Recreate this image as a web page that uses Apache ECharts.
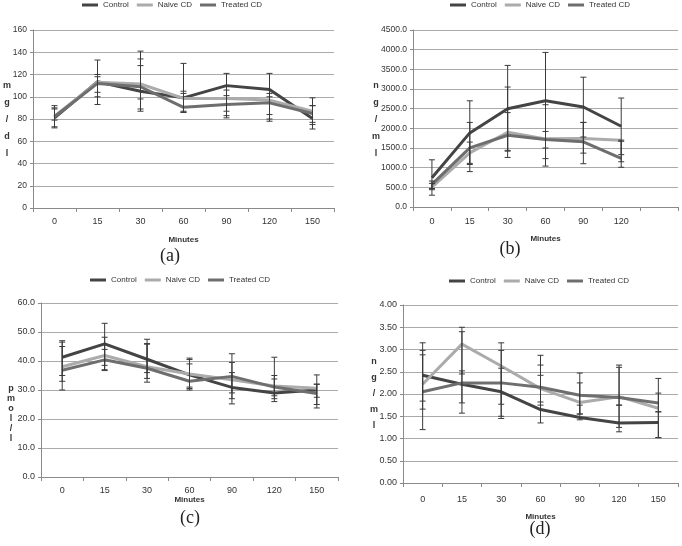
<!DOCTYPE html>
<html><head><meta charset="utf-8">
<script src="https://cdn.jsdelivr.net/npm/echarts@6/dist/echarts.min.js"></script>
<style>html,body{margin:0;padding:0;background:#fff}#c{width:682px;height:546px}</style>
</head><body><div id="c"></div>
<script>
const seriesNames = ['Control', 'Naive CD', 'Treated CD'];
const cats = ['0', '15', '30', '60', '90', '120', '150'];
const catsB = ['0', '15', '30', '60', '90', '120', ''];

// Panel (a) mg/dl
const aControl = [81, 113.5, 105, 99, 110, 106.5, 80.5];
const aNaive = [82.5, 113, 111.5, 98.5, 98.5, 97, 87];
const aTreated = [82, 112, 109, 90.5, 93, 94.5, 85];
const aControlErr = [[73, 89], [93, 133], [87, 128], [86, 130], [87, 121], [84, 121], [71, 92]];
const aNaiveErr = [[72, 92], [104, 120], [89, 141], [87, 105], [83, 106], [80, 103], [75, 99]];
const aTreatedErr = [[79, 90], [100, 118], [98, 134], [86, 103], [81, 101], [78, 100], [77, 92]];

// Panel (b) ng/ml
const bControl = [744, 1884, 2500, 2702, 2542, 2052];
const bNaive = [508, 1377, 1900, 1732, 1740, 1698];
const bTreated = [575, 1504, 1825, 1715, 1656, 1234];
const bControlErr = [[300, 1200], [1080, 2700], [1420, 3600], [1040, 3930], [1780, 3300], [1330, 2770]];
const bNaiveErr = [[440, 600], [1110, 1650], [1260, 2400], [1230, 2600], [1370, 2150], [1150, 1700]];
const bTreatedErr = [[470, 660], [900, 2150], [1440, 3050], [1500, 1920], [1100, 2150], [1010, 1670]];

// Panel (c) pmol/l
const cControl = [41.3, 45.9, 40.6, 35.2, 30.9, 29, 30];
const cNaive = [38, 41.9, 38, 35.5, 33.5, 31.4, 30.6];
const cTreated = [36.8, 40.4, 37.5, 33, 34.7, 31, 28.8];
const cControlErr = [[35, 47], [38.5, 53], [34, 47.5], [30, 41], [25.2, 36], [26, 33.8], [23.8, 35.2]];
const cNaiveErr = [[30, 46.5], [36.7, 48.2], [32.7, 46], [31, 40.5], [29, 39.5], [28, 35], [27.5, 32]];
const cTreatedErr = [[33, 45], [37, 44], [36, 45.8], [30.5, 39], [27, 42.5], [27, 41.3], [25, 32]];

// Panel (d) ng/ml
const dControl = [2.42, 2.22, 2.05, 1.65, 1.47, 1.35, 1.36];
const dNaive = [2.22, 3.12, 2.63, 2.12, 1.81, 1.94, 1.68];
const dTreated = [2.05, 2.25, 2.25, 2.15, 1.97, 1.92, 1.8];
const dControlErr = [[1.84, 2.98], [1.57, 2.52], [1.45, 2.58], [1.35, 2.42], [1.42, 1.75], [1.15, 1.75], [1.02, 1.6]];
const dNaiveErr = [[1.2, 3.15], [2.45, 3.5], [1.77, 3.15], [1.75, 2.87], [1.55, 2.25], [1.25, 2.65], [1.02, 2.35]];
const dTreatedErr = [[1.66, 2.88], [1.8, 3.4], [1.5, 2.98], [1.82, 2.65], [1.55, 2.47], [1.75, 2.6], [1.6, 2.02]];

const colors = ['#444444', '#ababab', '#6e6e6e'];
const SANS = '"Liberation Sans", Arial, sans-serif';

const panels = [
  { grid: { left: 33, top: 30, width: 301, height: 178 }, cats: cats, min: 0, max: 160, interval: 20, dec: 0, ySize: 8.5, xMargin: 9,
    data: [aControl, aNaive, aTreated], err: [aControlErr, aNaiveErr, aTreatedErr],
    legend: { left: 82, top: 1 }, unit: 'm\ng\n/\nd\nl', unitPos: [7, 120], unitLH: 17, unitSize: 9, tag: '(a)', tagPos: [170, 256], nameGap: 28 },
  { grid: { left: 413, top: 30, width: 265, height: 177 }, cats: catsB, min: 0, max: 4500, interval: 500, dec: 1, ySize: 8.5, xMargin: 10,
    data: [bControl, bNaive, bTreated], err: [bControlErr, bNaiveErr, bTreatedErr],
    legend: { left: 450, top: 1 }, unit: 'n\ng\n/\nm\nl', unitPos: [376, 120], unitLH: 17, unitSize: 9, tag: '(b)', tagPos: [510, 249], nameGap: 28 },
  { grid: { left: 41, top: 303, width: 297, height: 174 }, cats: cats, min: 0, max: 60, interval: 10, dec: 1, ySize: 9, xMargin: 9,
    data: [cControl, cNaive, cTreated], err: [cControlErr, cNaiveErr, cTreatedErr],
    legend: { left: 90, top: 276 }, unit: 'p\nm\no\nl\n/\nl', unitPos: [11, 414], unitLH: 10, unitSize: 9, tag: '(c)', tagPos: [190, 518], nameGap: 19 },
  { grid: { left: 403, top: 305, width: 275, height: 178 }, cats: cats, min: 0, max: 4, interval: 0.5, dec: 2, ySize: 9, xMargin: 12,
    data: [dControl, dNaive, dTreated], err: [dControlErr, dNaiveErr, dTreatedErr],
    legend: { left: 449, top: 277 }, unit: 'n\ng\n/\nm\nl', unitPos: [374, 394], unitLH: 16, unitSize: 9, tag: '(d)', tagPos: [540, 529], nameGap: 30 }
];

function errRender(params, api) {
  const x = api.value(0);
  const lo = api.coord([x, api.value(1)]);
  const hi = api.coord([x, api.value(2)]);
  const w = 3;
  const st = { stroke: '#3a3a3a', lineWidth: 1 };
  return { type: 'group', children: [
    { type: 'line', shape: { x1: lo[0], y1: lo[1], x2: hi[0], y2: hi[1] }, style: st },
    { type: 'line', shape: { x1: lo[0] - w, y1: lo[1], x2: lo[0] + w, y2: lo[1] }, style: st },
    { type: 'line', shape: { x1: hi[0] - w, y1: hi[1], x2: hi[0] + w, y2: hi[1] }, style: st }
  ] };
}

const option = { animation: false, backgroundColor: '#fff', grid: [], xAxis: [], yAxis: [], legend: [], series: [], graphic: [] };

panels.forEach((p, i) => {
  option.grid.push(p.grid);
  option.xAxis.push({
    type: 'category', gridIndex: i, data: p.cats, boundaryGap: true,
    name: 'Minutes', nameLocation: 'middle', nameGap: p.nameGap,
    nameTextStyle: { fontFamily: SANS, fontSize: 8, fontWeight: 'bold', color: '#333' },
    axisLine: { lineStyle: { color: '#8a8a8a', width: 1 } },
    axisTick: { show: true, length: 4, lineStyle: { color: '#8a8a8a' } },
    axisLabel: { fontFamily: SANS, fontSize: 9, color: '#333', margin: p.xMargin },
    splitLine: { show: false }
  });
  option.yAxis.push({
    type: 'value', gridIndex: i, min: p.min, max: p.max, interval: p.interval,
    axisLine: { show: true, lineStyle: { color: '#8a8a8a', width: 1 } },
    axisTick: { show: true, length: 3, lineStyle: { color: '#8a8a8a' } },
    axisLabel: { fontFamily: SANS, fontSize: p.ySize, color: '#333', margin: 6,
      formatter: v => v.toFixed(p.dec) },
    splitLine: { show: true, lineStyle: { color: '#aaaaaa', width: 1 } }
  });
  option.legend.push({
    left: p.legend.left, top: p.legend.top, padding: 0, itemGap: 8,
    itemWidth: 16, itemHeight: 3, icon: 'rect',
    data: seriesNames,
    textStyle: { fontFamily: SANS, fontSize: 8, color: '#333' }
  });
  p.data.forEach((d, k) => {
    option.series.push({
      type: 'line', name: seriesNames[k], xAxisIndex: i, yAxisIndex: i,
      data: d, showSymbol: false, symbol: 'none', z: 2,
      lineStyle: { color: colors[k], width: 3 }, itemStyle: { color: colors[k] }
    });
  });
  p.err.forEach((e, k) => {
    option.series.push({
      type: 'custom', xAxisIndex: i, yAxisIndex: i, silent: true, z: 3,
      renderItem: errRender,
      encode: { x: 0, y: [1, 2] },
      data: e.map((r, j) => [j, r[0], r[1]])
    });
  });
  option.graphic.push({
    type: 'text', x: p.unitPos[0], y: p.unitPos[1],
    style: { text: p.unit, fontFamily: SANS, fontSize: p.unitSize, fontWeight: 'bold', fill: '#333',
      align: 'center', verticalAlign: 'middle', lineHeight: p.unitLH }
  });
  option.graphic.push({
    type: 'text', x: p.tagPos[0], y: p.tagPos[1],
    style: { text: p.tag, fontFamily: '"Liberation Serif", "DejaVu Serif", serif', fontSize: 18, fill: '#222',
      align: 'center', verticalAlign: 'middle' }
  });
});

const chart = echarts.init(document.getElementById('c'), null, { renderer: 'canvas' });
chart.setOption(option);
</script>
</body></html>
